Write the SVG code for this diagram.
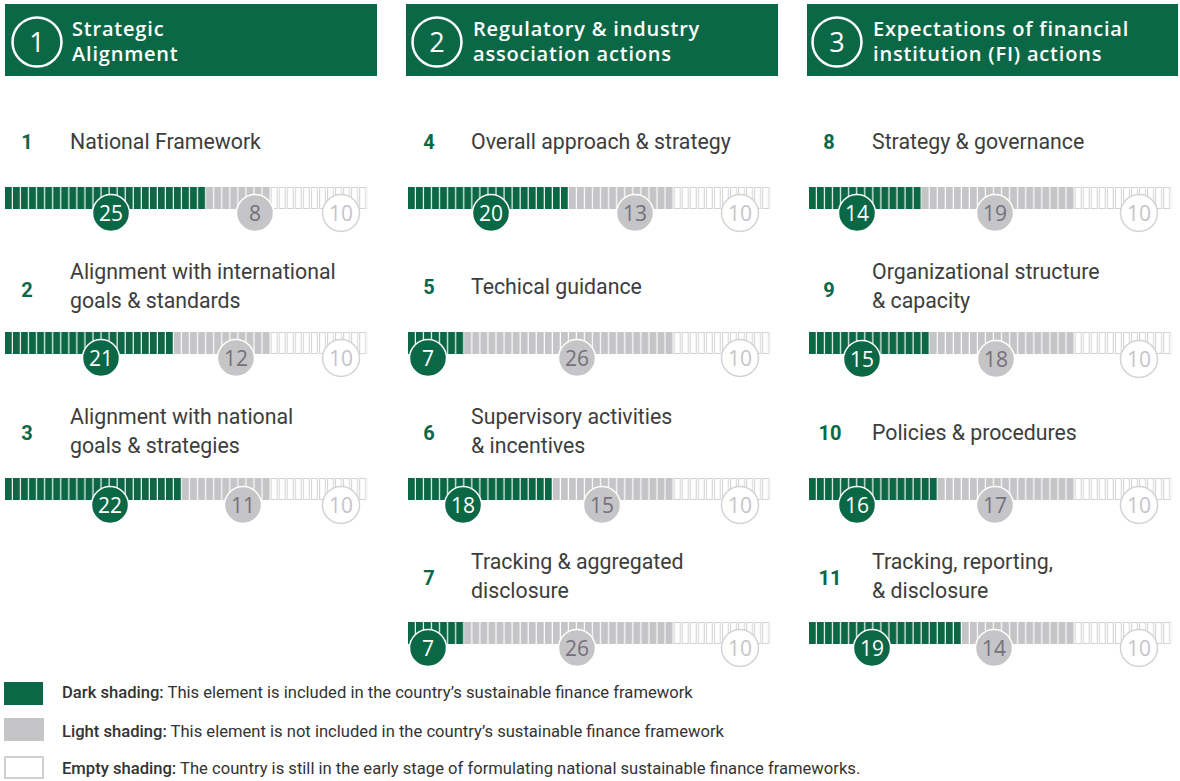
<svg xmlns="http://www.w3.org/2000/svg" width="1180" height="781" viewBox="0 0 1180 781">
<style>
.hdr{fill:#0b6846}
.hnum{font-family:"Open Sans","DejaVu Sans",sans-serif;font-size:27px;fill:#fff;text-anchor:middle}
.htxt{font-family:"Open Sans","DejaVu Sans",sans-serif;font-size:20px;font-weight:600;letter-spacing:0.8px;fill:#fff}
.num{font-family:"Roboto","Liberation Sans",sans-serif;font-size:20px;font-weight:700;fill:#0b6846;text-anchor:middle}
.lbl{font-family:"Roboto","Liberation Sans",sans-serif;font-size:21.3px;font-weight:400;fill:#3d3d3d}
.cd{fill:#0b6846;stroke:#fff;stroke-width:1.5}
.cl{fill:#c5c4c7;stroke:#fff;stroke-width:1.5}
.ce{fill:#fff;stroke:#d3d3d3;stroke-width:1.5}
.td,.tl,.te{font-family:"Open Sans","DejaVu Sans",sans-serif;font-size:21px;text-anchor:middle}
.td{fill:#fff}.tl{fill:#74717c}.te{fill:#c6c4ca}
.leg{font-family:"Roboto","Liberation Sans",sans-serif;font-size:16.6px;fill:#333}
</style>
<defs>
<pattern id="pd" patternUnits="userSpaceOnUse" x="0" y="0" width="8.05" height="22"><rect width="6.9" height="22" fill="#0b6846"/></pattern>
<pattern id="pl" patternUnits="userSpaceOnUse" x="0" y="0" width="8.05" height="22"><rect width="6.9" height="22" fill="#c5c4c7"/></pattern>
<pattern id="pe" patternUnits="userSpaceOnUse" x="0" y="0" width="8.05" height="22"><rect x="0.5" y="0.5" width="6" height="21" fill="#fff" stroke="#d3d3d3" stroke-width="1"/></pattern>
</defs>
<rect width="1180" height="781" fill="#fff"/>

<g id="header1">
<rect class="hdr" x="5" y="4" width="372" height="72"/>
<circle cx="37" cy="42" r="24.5" fill="none" stroke="#fff" stroke-width="2.5"/>
<text class="hnum" x="37" y="51.5">1</text>
<text class="htxt" x="72" y="36">Strategic</text>
<text class="htxt" x="72" y="61">Alignment</text>
</g>
<g id="header2">
<rect class="hdr" x="406" y="4" width="372" height="72"/>
<circle cx="437" cy="42" r="24.5" fill="none" stroke="#fff" stroke-width="2.5"/>
<text class="hnum" x="437" y="51.5">2</text>
<text class="htxt" x="473" y="36">Regulatory &amp; industry</text>
<text class="htxt" x="473" y="61">association actions</text>
</g>
<g id="header3">
<rect class="hdr" x="807" y="4" width="371" height="72"/>
<circle cx="837" cy="42" r="24.5" fill="none" stroke="#fff" stroke-width="2.5"/>
<text class="hnum" x="837" y="51.5">3</text>
<text class="htxt" x="873" y="36">Expectations of financial</text>
<text class="htxt" x="873" y="61">institution (FI) actions</text>
</g>

<!-- Column 1 -->
<g id="item1">
<text class="num" x="27" y="149">1</text>
<text class="lbl" x="70" y="149">National Framework</text>
<g transform="translate(5,187)"><rect width="201.25" height="22" fill="url(#pd)"/><rect x="201.25" width="64.4" height="22" fill="url(#pl)"/><rect x="265.65" width="96.6" height="22" fill="url(#pe)"/></g>
<circle class="cd" cx="111" cy="213" r="18.5"/><text class="td" x="111" y="220.5">25</text>
<circle class="cl" cx="255" cy="213" r="18.5"/><text class="tl" x="255" y="220.5">8</text>
<circle class="ce" cx="341" cy="213" r="18.5"/><text class="te" x="341" y="220.5">10</text>
</g>
<g id="item2">
<text class="num" x="27" y="297">2</text>
<text class="lbl" x="70" y="279">Alignment with international</text>
<text class="lbl" x="70" y="308">goals &amp; standards</text>
<g transform="translate(5,332)"><rect width="169.05" height="22" fill="url(#pd)"/><rect x="169.05" width="96.6" height="22" fill="url(#pl)"/><rect x="265.65" width="96.6" height="22" fill="url(#pe)"/></g>
<circle class="cd" cx="101" cy="358" r="18.5"/><text class="td" x="101" y="365.5">21</text>
<circle class="cl" cx="236" cy="358" r="18.5"/><text class="tl" x="236" y="365.5">12</text>
<circle class="ce" cx="341" cy="358" r="18.5"/><text class="te" x="341" y="365.5">10</text>
</g>
<g id="item3">
<text class="num" x="27" y="440">3</text>
<text class="lbl" x="70" y="424">Alignment with national</text>
<text class="lbl" x="70" y="453">goals &amp; strategies</text>
<g transform="translate(5,478)"><rect width="177.1" height="22" fill="url(#pd)"/><rect x="177.1" width="88.55" height="22" fill="url(#pl)"/><rect x="265.65" width="96.6" height="22" fill="url(#pe)"/></g>
<circle class="cd" cx="110" cy="505" r="18.5"/><text class="td" x="110" y="512.5">22</text>
<circle class="cl" cx="243" cy="505" r="18.5"/><text class="tl" x="243" y="512.5">11</text>
<circle class="ce" cx="341" cy="505" r="18.5"/><text class="te" x="341" y="512.5">10</text>
</g>

<!-- Column 2 -->
<g id="item4">
<text class="num" x="429" y="149">4</text>
<text class="lbl" x="471" y="149">Overall approach &amp; strategy</text>
<g transform="translate(408,187)"><rect width="161" height="22" fill="url(#pd)"/><rect x="161" width="104.65" height="22" fill="url(#pl)"/><rect x="265.65" width="96.6" height="22" fill="url(#pe)"/></g>
<circle class="cd" cx="491" cy="213" r="18.5"/><text class="td" x="491" y="220.5">20</text>
<circle class="cl" cx="635" cy="213" r="18.5"/><text class="tl" x="635" y="220.5">13</text>
<circle class="ce" cx="740" cy="213" r="18.5"/><text class="te" x="740" y="220.5">10</text>
</g>
<g id="item5">
<text class="num" x="429" y="294">5</text>
<text class="lbl" x="471" y="294">Techical guidance</text>
<g transform="translate(408,332)"><rect width="56.35" height="22" fill="url(#pd)"/><rect x="56.35" width="209.3" height="22" fill="url(#pl)"/><rect x="265.65" width="96.6" height="22" fill="url(#pe)"/></g>
<circle class="cd" cx="428" cy="358" r="18.5"/><text class="td" x="428" y="365.5">7</text>
<circle class="cl" cx="577" cy="358" r="18.5"/><text class="tl" x="577" y="365.5">26</text>
<circle class="ce" cx="740" cy="358" r="18.5"/><text class="te" x="740" y="365.5">10</text>
</g>
<g id="item6">
<text class="num" x="429" y="440">6</text>
<text class="lbl" x="471" y="424">Supervisory activities</text>
<text class="lbl" x="471" y="453">&amp; incentives</text>
<g transform="translate(408,478)"><rect width="144.9" height="22" fill="url(#pd)"/><rect x="144.9" width="120.75" height="22" fill="url(#pl)"/><rect x="265.65" width="96.6" height="22" fill="url(#pe)"/></g>
<circle class="cd" cx="463" cy="505" r="18.5"/><text class="td" x="463" y="512.5">18</text>
<circle class="cl" cx="602" cy="505" r="18.5"/><text class="tl" x="602" y="512.5">15</text>
<circle class="ce" cx="740" cy="505" r="18.5"/><text class="te" x="740" y="512.5">10</text>
</g>
<g id="item7">
<text class="num" x="429" y="585">7</text>
<text class="lbl" x="471" y="569">Tracking &amp; aggregated</text>
<text class="lbl" x="471" y="598">disclosure</text>
<g transform="translate(408,622)"><rect width="56.35" height="22" fill="url(#pd)"/><rect x="56.35" width="209.3" height="22" fill="url(#pl)"/><rect x="265.65" width="96.6" height="22" fill="url(#pe)"/></g>
<circle class="cd" cx="428" cy="648" r="18.5"/><text class="td" x="428" y="655.5">7</text>
<circle class="cl" cx="577" cy="648" r="18.5"/><text class="tl" x="577" y="655.5">26</text>
<circle class="ce" cx="740" cy="648" r="18.5"/><text class="te" x="740" y="655.5">10</text>
</g>

<!-- Column 3 -->
<g id="item8">
<text class="num" x="829" y="149">8</text>
<text class="lbl" x="872" y="149">Strategy &amp; governance</text>
<g transform="translate(809,187)"><rect width="112.7" height="22" fill="url(#pd)"/><rect x="112.7" width="152.95" height="22" fill="url(#pl)"/><rect x="265.65" width="96.6" height="22" fill="url(#pe)"/></g>
<circle class="cd" cx="857" cy="213" r="18.5"/><text class="td" x="857" y="220.5">14</text>
<circle class="cl" cx="995" cy="213" r="18.5"/><text class="tl" x="995" y="220.5">19</text>
<circle class="ce" cx="1139" cy="213" r="18.5"/><text class="te" x="1139" y="220.5">10</text>
</g>
<g id="item9">
<text class="num" x="829" y="297">9</text>
<text class="lbl" x="872" y="279">Organizational structure</text>
<text class="lbl" x="872" y="308">&amp; capacity</text>
<g transform="translate(809,332)"><rect width="120.75" height="22" fill="url(#pd)"/><rect x="120.75" width="144.9" height="22" fill="url(#pl)"/><rect x="265.65" width="96.6" height="22" fill="url(#pe)"/></g>
<circle class="cd" cx="862" cy="359" r="18.5"/><text class="td" x="862" y="366.5">15</text>
<circle class="cl" cx="996" cy="359" r="18.5"/><text class="tl" x="996" y="366.5">18</text>
<circle class="ce" cx="1139" cy="359" r="18.5"/><text class="te" x="1139" y="366.5">10</text>
</g>
<g id="item10">
<text class="num" x="830" y="440">10</text>
<text class="lbl" x="872" y="440">Policies &amp; procedures</text>
<g transform="translate(809,478)"><rect width="128.8" height="22" fill="url(#pd)"/><rect x="128.8" width="136.85" height="22" fill="url(#pl)"/><rect x="265.65" width="96.6" height="22" fill="url(#pe)"/></g>
<circle class="cd" cx="857" cy="505" r="18.5"/><text class="td" x="857" y="512.5">16</text>
<circle class="cl" cx="995" cy="505" r="18.5"/><text class="tl" x="995" y="512.5">17</text>
<circle class="ce" cx="1139" cy="505" r="18.5"/><text class="te" x="1139" y="512.5">10</text>
</g>
<g id="item11">
<text class="num" x="830" y="585">11</text>
<text class="lbl" x="872" y="569">Tracking, reporting,</text>
<text class="lbl" x="872" y="598">&amp; disclosure</text>
<g transform="translate(809,622)"><rect width="152.95" height="22" fill="url(#pd)"/><rect x="152.95" width="112.7" height="22" fill="url(#pl)"/><rect x="265.65" width="96.6" height="22" fill="url(#pe)"/></g>
<circle class="cd" cx="872" cy="648" r="18.5"/><text class="td" x="872" y="655.5">19</text>
<circle class="cl" cx="994" cy="648" r="18.5"/><text class="tl" x="994" y="655.5">14</text>
<circle class="ce" cx="1139" cy="648" r="18.5"/><text class="te" x="1139" y="655.5">10</text>
</g>

<g id="connectors"></g>

<g id="legend">
<rect x="4" y="682" width="39" height="23" fill="#0b6846"/>
<text class="leg" x="62" y="698"><tspan font-weight="500">Dark shading:</tspan> This element is included in the country’s sustainable finance framework</text>
<rect x="4" y="718" width="40" height="23" fill="#c5c4c7"/>
<text class="leg" x="62" y="737"><tspan font-weight="500">Light shading:</tspan> This element is not included in the country’s sustainable finance framework</text>
<rect x="5" y="757" width="38" height="21" fill="#fff" stroke="#cfcfcf" stroke-width="2"/>
<text class="leg" x="62" y="774"><tspan font-weight="500">Empty shading:</tspan> The country is still in the early stage of formulating national sustainable finance frameworks.</text>
</g>
</svg>
